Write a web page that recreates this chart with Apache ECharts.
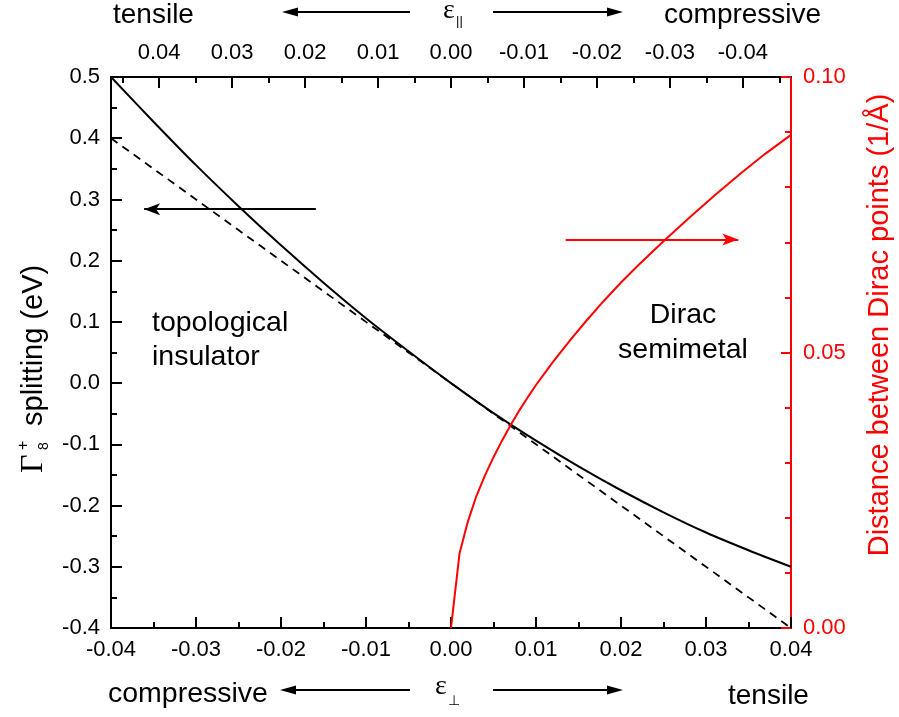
<!DOCTYPE html>
<html>
<head>
<meta charset="utf-8">
<script src="https://cdn.jsdelivr.net/npm/echarts@6/dist/echarts.min.js"></script>
<style>
  html, body { margin: 0; padding: 0; background: #fff; }
  #chart { width: 899px; height: 717px; }
</style>
</head>
<body>
<div id="chart"></div>
<script>
// Out-of-plane strain ε⊥ (bottom axis) samples
const strainPerp = [-0.04, -0.035, -0.03, -0.025, -0.02, -0.015, -0.01, -0.005, 0,
                    0.005, 0.01, 0.015, 0.02, 0.025, 0.03, 0.035, 0.04];
// Γ8+ splitting (eV): full calculation (solid) and linear estimate (dashed)
const splittingFull = [0.500, 0.427, 0.356, 0.289, 0.225, 0.164, 0.106, 0.052, 0.000,
                       -0.049, -0.094, -0.136, -0.175, -0.211, -0.244, -0.273, -0.300];
const splittingLinear = [0.40, 0.35, 0.30, 0.25, 0.20, 0.15, 0.10, 0.05, 0.00,
                         -0.05, -0.10, -0.15, -0.20, -0.25, -0.30, -0.35, -0.40];
// Distance between Dirac points (1/Å) for tensile ε⊥
const strainDirac = [0, 0.001, 0.002, 0.003, 0.004, 0.005, 0.006, 0.007, 0.008, 0.009, 0.010,
                     0.012, 0.014, 0.016, 0.018, 0.020, 0.022, 0.025, 0.028, 0.031, 0.034,
                     0.037, 0.040];
const diracDistance = [0, 0.0135, 0.0194, 0.0240, 0.0277, 0.0310, 0.0340, 0.0368, 0.0394, 0.0418, 0.0441,
                       0.0483, 0.0522, 0.0559, 0.0594, 0.0627, 0.0658, 0.0702, 0.0744, 0.0785, 0.0824,
                       0.0861, 0.0895];
// In-plane strain ε∥ (top axis): window edges correspond to ε⊥ = ∓0.04
const parallelExtent = 0.0466;
const parallelTicks = [0.04, 0.03, 0.02, 0.01, 0.00, -0.01, -0.02, -0.03, -0.04];
const parallelMinorTicks = [0.045, 0.035, 0.025, 0.015, 0.005, -0.005, -0.015, -0.025, -0.035, -0.045];

const FONT = '"Liberation Sans", Arial, sans-serif';
const RED = '#ff0000';
const MAJOR_LEN = 11, MINOR_LEN = 6;
const PLOT = { left: 111, right: 108, top: 77, bottom: 89 };
const SPLIT_MIN = -0.4, SPLIT_MAX = 0.5;
const PERP_LIMIT = 0.04;

const chart = echarts.init(document.getElementById('chart'), null, { renderer: 'canvas' });

const pairs = (xs, ys) => xs.map((x, i) => [x, ys[i]]);

// horizontal arrow (line + head) for the strain-direction captions
function arrow(xTail, xTip, y, color) {
  const dir = xTip > xTail ? 1 : -1;
  const headLen = 16, headHalf = 4.5;
  return [
    { type: 'line', shape: { x1: xTail, y1: y, x2: xTip - dir * headLen + dir * 2, y2: y },
      style: { stroke: color, lineWidth: 2 }, silent: true },
    { type: 'polygon', shape: { points: [[xTip, y], [xTip - dir * headLen, y - headHalf], [xTip - dir * headLen, y + headHalf]] },
      style: { fill: color }, silent: true }
  ];
}

function txt(x, y, text, opts) {
  return {
    type: 'text', x: x, y: y, silent: true,
    style: Object.assign({ text: text, font: '28px ' + FONT, fill: '#000', align: 'left', verticalAlign: 'middle' }, opts || {})
  };
}

const graphics = [
  // top caption row
  txt(113, 15, 'tensile'),
  ...arrow(410, 282, 12, '#000'),
  txt(443, 11, 'ε', { font: '28px "Liberation Serif", serif' }),
  txt(456, 21, '||', { font: '13px ' + FONT }),
  ...arrow(493, 623, 12, '#000'),
  txt(664, 15, 'compressive'),
  // bottom caption row
  txt(108, 694, 'compressive', { font: '28.5px ' + FONT }),
  ...arrow(410, 280, 690, '#000'),
  txt(435, 687, 'ε', { font: '28px "Liberation Serif", serif' }),
  txt(448, 701, '⊥', { font: '14px "DejaVu Sans", sans-serif' }),
  ...arrow(493, 623, 690, '#000'),
  txt(728, 696, 'tensile'),
  // phase labels
  txt(152, 323, 'topological', { font: '28.5px ' + FONT }),
  txt(152, 357, 'insulator', { font: '28.5px ' + FONT }),
  txt(683, 315, 'Dirac', { align: 'center', font: '28.5px ' + FONT }),
  txt(683, 350, 'semimetal', { align: 'center', font: '28.5px ' + FONT }),
  // left axis title: Γ8+ splitting (eV)
  {
    type: 'group', x: 34, y: 473, rotation: Math.PI / 2, silent: true,
    children: [
      txt(0, 0, 'Γ', { font: '32px "Liberation Serif", serif' }),
      txt(23, -10, '+', { font: '16px ' + FONT }),
      txt(23, 10, '8', { font: '14px ' + FONT }),
      txt(47, 0, 'splitting (eV)', { font: '29px ' + FONT })
    ]
  },
  // right axis title
  {
    type: 'text', x: 880, y: 325, rotation: Math.PI / 2, silent: true,
    style: { text: 'Distance between Dirac points (1/Å)', font: '29px ' + FONT, fill: RED, align: 'center', verticalAlign: 'middle' }
  }
];

const blackLine = { color: '#000', width: 2 };

// ε∥ ticks along the frame top, placed on the ε⊥ scale (ε⊥ = −ε∥·0.04/extent)
const plotHeight = 717 - PLOT.top - PLOT.bottom;
const eVPerPixel = (SPLIT_MAX - SPLIT_MIN) / plotHeight;
function parallelTickLines(values, len) {
  return values.map(v => {
    const x = -v * PERP_LIMIT / parallelExtent;
    return [{ coord: [x, SPLIT_MAX] }, { coord: [x, SPLIT_MAX - len * eVPerPixel] }];
  });
}

const option = {
  backgroundColor: '#fff',
  animation: false,
  grid: Object.assign({ containLabel: false, outerBoundsMode: 'none' }, PLOT),
  xAxis: [
    {
      type: 'value', position: 'bottom', min: -PERP_LIMIT, max: PERP_LIMIT, interval: 0.01,
      axisLine: { show: true, onZero: false, lineStyle: blackLine },
      axisTick: { show: true, inside: true, length: MAJOR_LEN, lineStyle: blackLine },
      minorTick: { show: true, splitNumber: 2, length: MINOR_LEN, lineStyle: blackLine },
      splitLine: { show: false }, minorSplitLine: { show: false },
      axisLabel: { color: '#000', fontSize: 22, fontFamily: FONT, margin: 11,
                   formatter: v => v.toFixed(2) }
    },
    // ε∥ axis (reversed): line and labels
    {
      type: 'value', position: 'top', inverse: true,
      min: -parallelExtent, max: parallelExtent,
      axisLine: { show: true, onZero: false, lineStyle: blackLine },
      axisTick: { show: false },
      splitLine: { show: false },
      axisLabel: { color: '#000', fontSize: 22, fontFamily: FONT, margin: 13,
                   customValues: parallelTicks, formatter: v => v.toFixed(2) }
    }
  ],
  yAxis: [
    {
      type: 'value', position: 'left', min: SPLIT_MIN, max: SPLIT_MAX, interval: 0.1,
      axisLine: { show: true, onZero: false, lineStyle: blackLine },
      axisTick: { show: true, inside: true, length: MAJOR_LEN, lineStyle: blackLine },
      minorTick: { show: true, splitNumber: 2, length: MINOR_LEN, lineStyle: blackLine },
      splitLine: { show: false }, minorSplitLine: { show: false },
      axisLabel: { color: '#000', fontSize: 22, fontFamily: FONT, margin: 11,
                   formatter: v => v.toFixed(1) }
    },
    {
      type: 'value', position: 'right', min: 0, max: 0.1, interval: 0.05,
      axisLine: { show: true, onZero: false, lineStyle: { color: RED, width: 2 } },
      axisTick: { show: true, inside: true, length: 10, lineStyle: { color: RED, width: 2 } },
      minorTick: { show: true, splitNumber: 5, length: MINOR_LEN, lineStyle: { color: RED, width: 2 } },
      splitLine: { show: false }, minorSplitLine: { show: false },
      axisLabel: { color: RED, fontSize: 22, fontFamily: FONT, margin: 12,
                   formatter: v => v.toFixed(2) }
    }
  ],
  series: [
    {
      name: 'full', type: 'line', xAxisIndex: 0, yAxisIndex: 0,
      data: pairs(strainPerp, splittingFull), smooth: 0.3,
      showSymbol: false, lineStyle: { color: '#000', width: 2 },
      markLine: {
        silent: true, symbol: ['none', 'arrow'], symbolSize: [9, 16],
        lineStyle: { color: '#000', width: 2, type: 'solid' }, label: { show: false },
        data: [[{ coord: [-0.0159, 0.284] }, { coord: [-0.0361, 0.284] }]]
      }
    },
    {
      name: 'linear', type: 'line', xAxisIndex: 0, yAxisIndex: 0,
      data: pairs(strainPerp, splittingLinear),
      showSymbol: false, lineStyle: { color: '#000', width: 1.8, type: [8, 6] },
      markLine: {
        silent: true, symbol: ['none', 'none'], precision: 6,
        lineStyle: { color: '#000', width: 2, type: 'solid' }, label: { show: false },
        emphasis: { disabled: true },
        data: parallelTickLines(parallelTicks, MAJOR_LEN)
          .concat(parallelTickLines(parallelMinorTicks, MINOR_LEN))
      }
    },
    {
      name: 'dirac', type: 'line', xAxisIndex: 0, yAxisIndex: 1,
      data: pairs(strainDirac, diracDistance),
      showSymbol: false, lineStyle: { color: RED, width: 2 },
      markLine: {
        silent: true, symbol: ['none', 'arrow'], symbolSize: [9, 16],
        lineStyle: { color: RED, width: 2, type: 'solid' }, label: { show: false },
        data: [[{ coord: [0.0135, 0.0705] }, { coord: [0.0338, 0.0705] }]]
      }
    }
  ],
  graphic: { elements: graphics }
};

chart.setOption(option);
</script>
</body>
</html>
